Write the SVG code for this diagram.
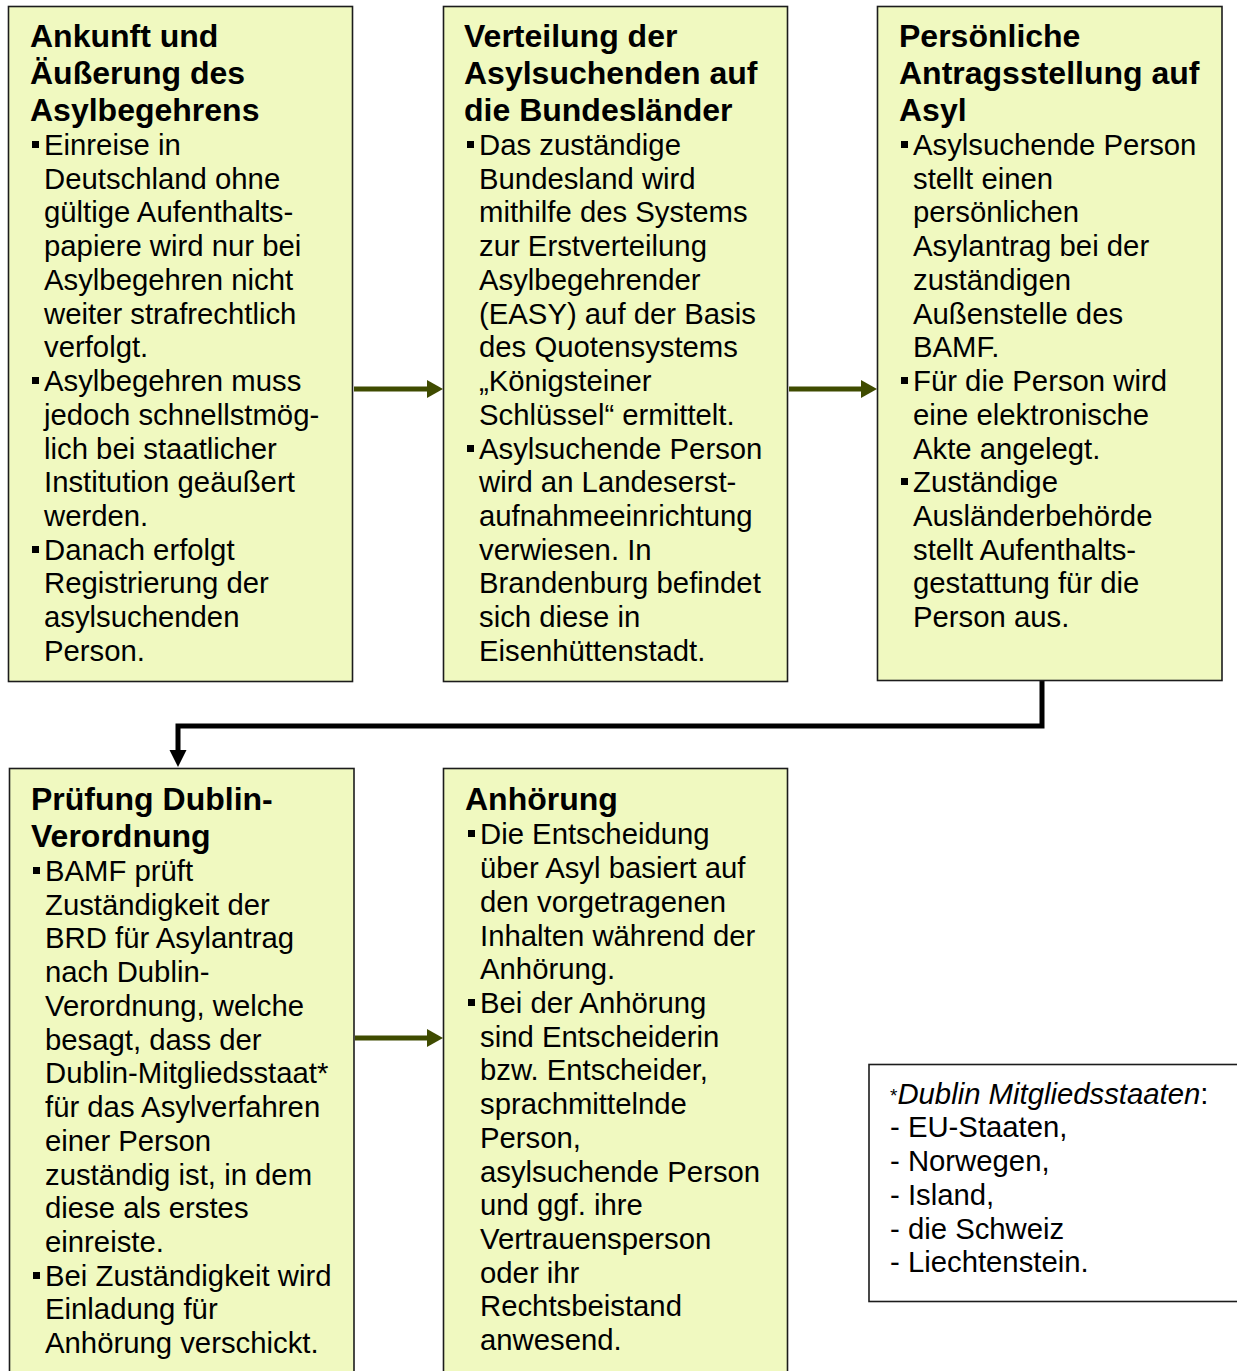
<svg xmlns="http://www.w3.org/2000/svg" width="1237" height="1371" viewBox="0 0 1237 1371">
<style>
.box{fill:#F0F9C0;stroke:#1c1c1c;stroke-width:1.6}
.note{fill:#ffffff;stroke:#1c1c1c;stroke-width:1.6}
.t{font-family:"Liberation Sans",Arial,sans-serif;font-weight:bold;font-size:32px;fill:#000}
.b{font-family:"Liberation Sans",Arial,sans-serif;font-size:29.3px;fill:#000}
.g{stroke:#3F4B00;stroke-width:5;fill:none}
.ga{fill:#3F4B00}
.k{stroke:#000;stroke-width:5;fill:none}
</style>
<defs>
<rect id="bul" width="7" height="7" fill="#000"/>
</defs>

<g id="connectors">
<line class="g" x1="354" y1="389" x2="428" y2="389"/>
<polygon class="ga" points="427,380 443,389 427,398"/>
<line class="g" x1="789" y1="389" x2="862" y2="389"/>
<polygon class="ga" points="861,380 877,389 861,398"/>
<line class="g" x1="355" y1="1038" x2="428" y2="1038"/>
<polygon class="ga" points="427,1029 443,1038 427,1047"/>
<polyline class="k" points="1042,681 1042,726 178,726 178,752"/>
<polygon fill="#000" points="169.5,750 186.5,750 178,767"/>
</g>

<g id="node1">
<rect class="box" x="8.5" y="6.5" width="344" height="675"/>
<text class="t"><tspan x="30" y="47">Ankunft und</tspan><tspan x="30" y="84">Äußerung des</tspan><tspan x="30" y="121">Asylbegehrens</tspan></text>
<use href="#bul" x="32" y="141"/><use href="#bul" x="32" y="377"/><use href="#bul" x="32" y="546"/>
<text class="b"><tspan x="44" y="155">Einreise in</tspan><tspan x="44" y="189">Deutschland ohne</tspan><tspan x="44" y="222">gültige Aufenthalts-</tspan><tspan x="44" y="256">papiere wird nur bei</tspan><tspan x="44" y="290">Asylbegehren nicht</tspan><tspan x="44" y="324">weiter strafrechtlich</tspan><tspan x="44" y="357">verfolgt.</tspan><tspan x="44" y="391">Asylbegehren muss</tspan><tspan x="44" y="425">jedoch schnellstmög-</tspan><tspan x="44" y="459">lich bei staatlicher</tspan><tspan x="44" y="492">Institution geäußert</tspan><tspan x="44" y="526">werden.</tspan><tspan x="44" y="560">Danach erfolgt</tspan><tspan x="44" y="593">Registrierung der</tspan><tspan x="44" y="627">asylsuchenden</tspan><tspan x="44" y="661">Person.</tspan></text>
</g>

<g id="node2">
<rect class="box" x="443.5" y="6.5" width="344" height="675"/>
<text class="t"><tspan x="464" y="47">Verteilung der</tspan><tspan x="464" y="84">Asylsuchenden auf</tspan><tspan x="464" y="121">die Bundesländer</tspan></text>
<use href="#bul" x="467" y="141"/><use href="#bul" x="467" y="445"/>
<text class="b"><tspan x="479" y="155">Das zuständige</tspan><tspan x="479" y="189">Bundesland wird</tspan><tspan x="479" y="222">mithilfe des Systems</tspan><tspan x="479" y="256">zur Erstverteilung</tspan><tspan x="479" y="290">Asylbegehrender</tspan><tspan x="479" y="324">(EASY) auf der Basis</tspan><tspan x="479" y="357">des Quotensystems</tspan><tspan x="479" y="391">„Königsteiner</tspan><tspan x="479" y="425">Schlüssel“ ermittelt.</tspan><tspan x="479" y="459">Asylsuchende Person</tspan><tspan x="479" y="492">wird an Landeserst-</tspan><tspan x="479" y="526">aufnahmeeinrichtung</tspan><tspan x="479" y="560">verwiesen. In</tspan><tspan x="479" y="593">Brandenburg befindet</tspan><tspan x="479" y="627">sich diese in</tspan><tspan x="479" y="661">Eisenhüttenstadt.</tspan></text>
</g>

<g id="node3">
<rect class="box" x="877.5" y="6.5" width="344.5" height="674"/>
<text class="t"><tspan x="899" y="47">Persönliche</tspan><tspan x="899" y="84">Antragsstellung auf</tspan><tspan x="899" y="121">Asyl</tspan></text>
<use href="#bul" x="901" y="141"/><use href="#bul" x="901" y="377"/><use href="#bul" x="901" y="478"/>
<text class="b"><tspan x="913" y="155">Asylsuchende Person</tspan><tspan x="913" y="189">stellt einen</tspan><tspan x="913" y="222">persönlichen</tspan><tspan x="913" y="256">Asylantrag bei der</tspan><tspan x="913" y="290">zuständigen</tspan><tspan x="913" y="324">Außenstelle des</tspan><tspan x="913" y="357">BAMF.</tspan><tspan x="913" y="391">Für die Person wird</tspan><tspan x="913" y="425">eine elektronische</tspan><tspan x="913" y="459">Akte angelegt.</tspan><tspan x="913" y="492">Zuständige</tspan><tspan x="913" y="526">Ausländerbehörde</tspan><tspan x="913" y="560">stellt Aufenthalts-</tspan><tspan x="913" y="593">gestattung für die</tspan><tspan x="913" y="627">Person aus.</tspan></text>
</g>

<g id="node4">
<rect class="box" x="9.5" y="768.5" width="344.5" height="640"/>
<text class="t"><tspan x="31" y="810">Prüfung Dublin-</tspan><tspan x="31" y="847">Verordnung</tspan></text>
<use href="#bul" x="33" y="867"/><use href="#bul" x="33" y="1272"/>
<text class="b"><tspan x="45" y="881">BAMF prüft</tspan><tspan x="45" y="915">Zuständigkeit der</tspan><tspan x="45" y="948">BRD für Asylantrag</tspan><tspan x="45" y="982">nach Dublin-</tspan><tspan x="45" y="1016">Verordnung, welche</tspan><tspan x="45" y="1050">besagt, dass der</tspan><tspan x="45" y="1083">Dublin-Mitgliedsstaat*</tspan><tspan x="45" y="1117">für das Asylverfahren</tspan><tspan x="45" y="1151">einer Person</tspan><tspan x="45" y="1185">zuständig ist, in dem</tspan><tspan x="45" y="1218">diese als erstes</tspan><tspan x="45" y="1252">einreiste.</tspan><tspan x="45" y="1286">Bei Zuständigkeit wird</tspan><tspan x="45" y="1319">Einladung für</tspan><tspan x="45" y="1353">Anhörung verschickt.</tspan></text>
</g>

<g id="node5">
<rect class="box" x="443.5" y="768.5" width="344" height="640"/>
<text class="t"><tspan x="465" y="810">Anhörung</tspan></text>
<use href="#bul" x="468" y="830"/><use href="#bul" x="468" y="999"/>
<text class="b"><tspan x="480" y="844">Die Entscheidung</tspan><tspan x="480" y="878">über Asyl basiert auf</tspan><tspan x="480" y="912">den vorgetragenen</tspan><tspan x="480" y="946">Inhalten während der</tspan><tspan x="480" y="979">Anhörung.</tspan><tspan x="480" y="1013">Bei der Anhörung</tspan><tspan x="480" y="1047">sind Entscheiderin</tspan><tspan x="480" y="1080">bzw. Entscheider,</tspan><tspan x="480" y="1114">sprachmittelnde</tspan><tspan x="480" y="1148">Person,</tspan><tspan x="480" y="1182">asylsuchende Person</tspan><tspan x="480" y="1215">und ggf. ihre</tspan><tspan x="480" y="1249">Vertrauensperson</tspan><tspan x="480" y="1283">oder ihr</tspan><tspan x="480" y="1316">Rechtsbeistand</tspan><tspan x="480" y="1350">anwesend.</tspan></text>
</g>

<g id="footnote">
<rect class="note" x="869" y="1064.5" width="380" height="237"/>
<text class="b" x="890" y="1104"><tspan font-size="19" dy="-2">*</tspan><tspan font-style="italic" dy="2">Dublin Mitgliedsstaaten</tspan>:</text>
<text class="b"><tspan x="890" y="1137">- EU-Staaten,</tspan><tspan x="890" y="1171">- Norwegen,</tspan><tspan x="890" y="1205">- Island,</tspan><tspan x="890" y="1239">- die Schweiz</tspan><tspan x="890" y="1272">- Liechtenstein.</tspan></text>
</g>
</svg>
